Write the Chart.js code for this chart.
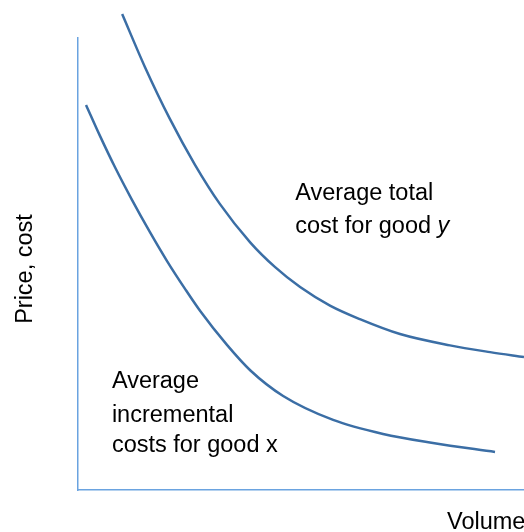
<!DOCTYPE html>
<html>
<head>
<meta charset="utf-8">
<script src="https://cdn.jsdelivr.net/npm/chart.js@4/dist/chart.umd.min.js"></script>
<style>
  html, body { margin: 0; padding: 0; background: #fff; }
  canvas { display: block; }
</style>
</head>
<body>
<canvas id="canvas" width="524" height="532"></canvas>
<script>
// volume (x) and price/cost (y), arbitrary units 0..10
var totalCostX = [0.99, 1.50, 2.06, 2.62, 3.18, 3.86, 4.42, 4.98, 5.65, 6.32, 7.22, 8.34, 9.24, 10.0];
var totalCostY = [10.53, 9.36, 8.21, 7.20, 6.33, 5.48, 4.93, 4.49, 4.08, 3.78, 3.45, 3.20, 3.05, 2.94];

var incrCostX = [0.18, 0.49, 0.83, 1.21, 1.61, 2.00, 2.40, 2.74, 3.34, 3.86, 4.60, 5.72, 6.84, 7.96, 9.35];
var incrCostY = [8.52, 7.84, 7.14, 6.42, 5.71, 5.06, 4.45, 3.96, 3.21, 2.65, 2.08, 1.55, 1.24, 1.04, 0.84];

var xTitle = 'Volume';
var yTitle = 'Price, cost';

var lineColor = '#3b6ea5';
var axisColor = '#6aa3e0';
var font = '23.5px "Liberation Sans", Arial, sans-serif';
var fontItalic = 'italic 23.5px "Liberation Sans", Arial, sans-serif';

var toPoints = function(xs, ys) {
  var arr = [];
  for (i = 0; i < xs.length; i++) {
    arr.push({x: xs[i], y: ys[i]});
  }
  return arr;
};

// curve labels, placed in data units (left edge, baseline)
var curveLabels = [
  {x: 4.87, y: 6.42, parts: [['Average total', false]]},
  {x: 4.87, y: 5.69, parts: [['cost for good ', false], ['y', true]]},
  {x: 0.76, y: 2.26, parts: [['Average', false]]},
  {x: 0.76, y: 1.50, parts: [['incremental', false]]},
  {x: 0.76, y: 0.84, parts: [['costs for good x', false]]}
];

var textPlugin = {
  id: 'textPlugin',
  afterDraw: function(chart) {
    var ctx = chart.ctx;
    var xs = chart.scales.x, ys = chart.scales.y;
    ctx.save();
    ctx.fillStyle = '#000';
    ctx.textBaseline = 'alphabetic';
    ctx.textAlign = 'left';
    curveLabels.forEach(function(l) {
      var px = xs.getPixelForValue(l.x);
      var py = ys.getPixelForValue(l.y);
      l.parts.forEach(function(p) {
        ctx.font = p[1] ? fontItalic : font;
        ctx.fillText(p[0], px, py);
        px += ctx.measureText(p[0]).width;
      });
    });
    // axis titles
    ctx.font = font;
    ctx.fillText(xTitle, xs.left + 369, xs.bottom + 39);
    ctx.translate(xs.left - 46, (ys.top + ys.bottom) / 2 + 5);
    ctx.rotate(-Math.PI / 2);
    ctx.textAlign = 'center';
    ctx.fillText(yTitle, 0, 0);
    ctx.restore();
  }
};

var ctx = document.getElementById('canvas').getContext('2d');

window.myChart = new Chart(ctx, {
  type: 'scatter',
  data: {
    datasets: [{
      label: 'Average total cost for good y',
      data: toPoints(totalCostX, totalCostY),
      showLine: true,
      borderColor: lineColor,
      borderWidth: 2.5,
      pointRadius: 0,
      cubicInterpolationMode: 'monotone',
      clip: false
    }, {
      label: 'Average incremental costs for good x',
      data: toPoints(incrCostX, incrCostY),
      showLine: true,
      borderColor: lineColor,
      borderWidth: 2.5,
      pointRadius: 0,
      cubicInterpolationMode: 'monotone',
      clip: false
    }]
  },
  options: {
    responsive: false,
    animation: false,
    layout: {
      padding: {left: 78, top: 38, right: 0, bottom: 42}
    },
    plugins: {
      legend: {display: false},
      tooltip: {enabled: false}
    },
    scales: {
      x: {
        type: 'linear',
        min: 0,
        max: 10,
        grid: {display: false, drawTicks: false},
        ticks: {display: false},
        border: {display: true, color: axisColor, width: 1.5}
      },
      y: {
        type: 'linear',
        min: 0,
        max: 10,
        grid: {display: false, drawTicks: false},
        ticks: {display: false},
        border: {display: true, color: axisColor, width: 1.5}
      }
    }
  },
  plugins: [textPlugin]
});
</script>
</body>
</html>
